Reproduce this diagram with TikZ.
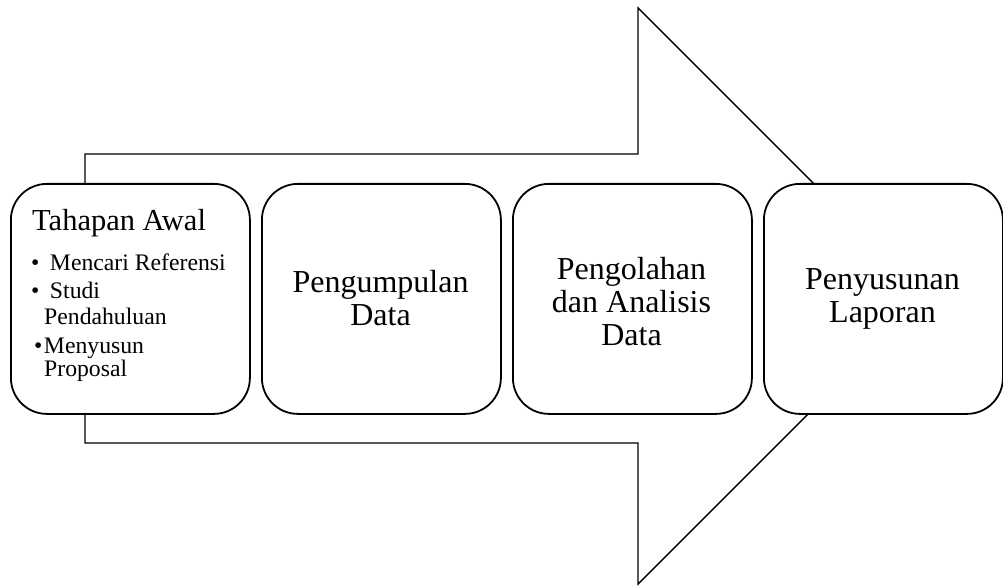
\documentclass[tikz,border=0pt]{standalone}
\usepackage{fontspec}
\setmainfont{Liberation Serif}
\begin{document}
\begin{tikzpicture}[x=1pt,y=-1pt,
  stage/.style={draw=black,line width=1.8pt,fill=white,rounded corners=36pt,minimum width=239pt,minimum height=230pt,inner sep=0pt,anchor=north west},
  big/.style={font=\fontsize{32}{33}\selectfont,align=center,inner sep=0pt},
  head/.style={font=\fontsize{30.5}{31}\selectfont,inner sep=0pt,anchor=base west},
  small/.style={font=\fontsize{23.7}{25}\selectfont,inner sep=0pt,anchor=base west},
  arrowshape/.style={draw=black,line width=1.4pt,fill=white,line join=miter}]
\useasboundingbox (0,0) rectangle (1003,588);
\coordinate (s1) at (85,154);
\coordinate (s2) at (638,154);
\coordinate (h1) at (638,8);
\coordinate (tip) at (926,296);
\coordinate (h2) at (638,584);
\coordinate (s3) at (638,443);
\coordinate (s4) at (85,443);
\draw[arrowshape] (s1) -- (s2) -- (h1) -- (tip) -- (h2) -- (s3) -- (s4) -- cycle;
\node[stage] (b1) at (10,183) {};
\node[stage] (b2) at (261,183) {};
\node[stage] (b3) at (512,183) {};
\node[stage] (b4) at (763,183) {};
\node[head] (t1) at (32,230) {Tahapan Awal};
\node[small] (p1) at (31,270) {•\hspace{10.5pt}Mencari Referensi};
\node[small] (p2) at (31,298) {•\hspace{10.5pt}Studi};
\node[small] (p2b) at (44,324) {Pendahuluan};
\node[small] (p3) at (34,353) {•\hspace{1.5pt}Menyusun};
\node[small] (p3b) at (44,376) {Proposal};
\node[big] (t2) at (380.5,298) {Pengumpulan\\Data};
\node[big] (t3) at (631.5,302) {Pengolahan\\dan Analisis\\Data};
\node[big] (t4) at (882.5,299) {Penyusunan\\Laporan};
\end{tikzpicture}
\end{document}
